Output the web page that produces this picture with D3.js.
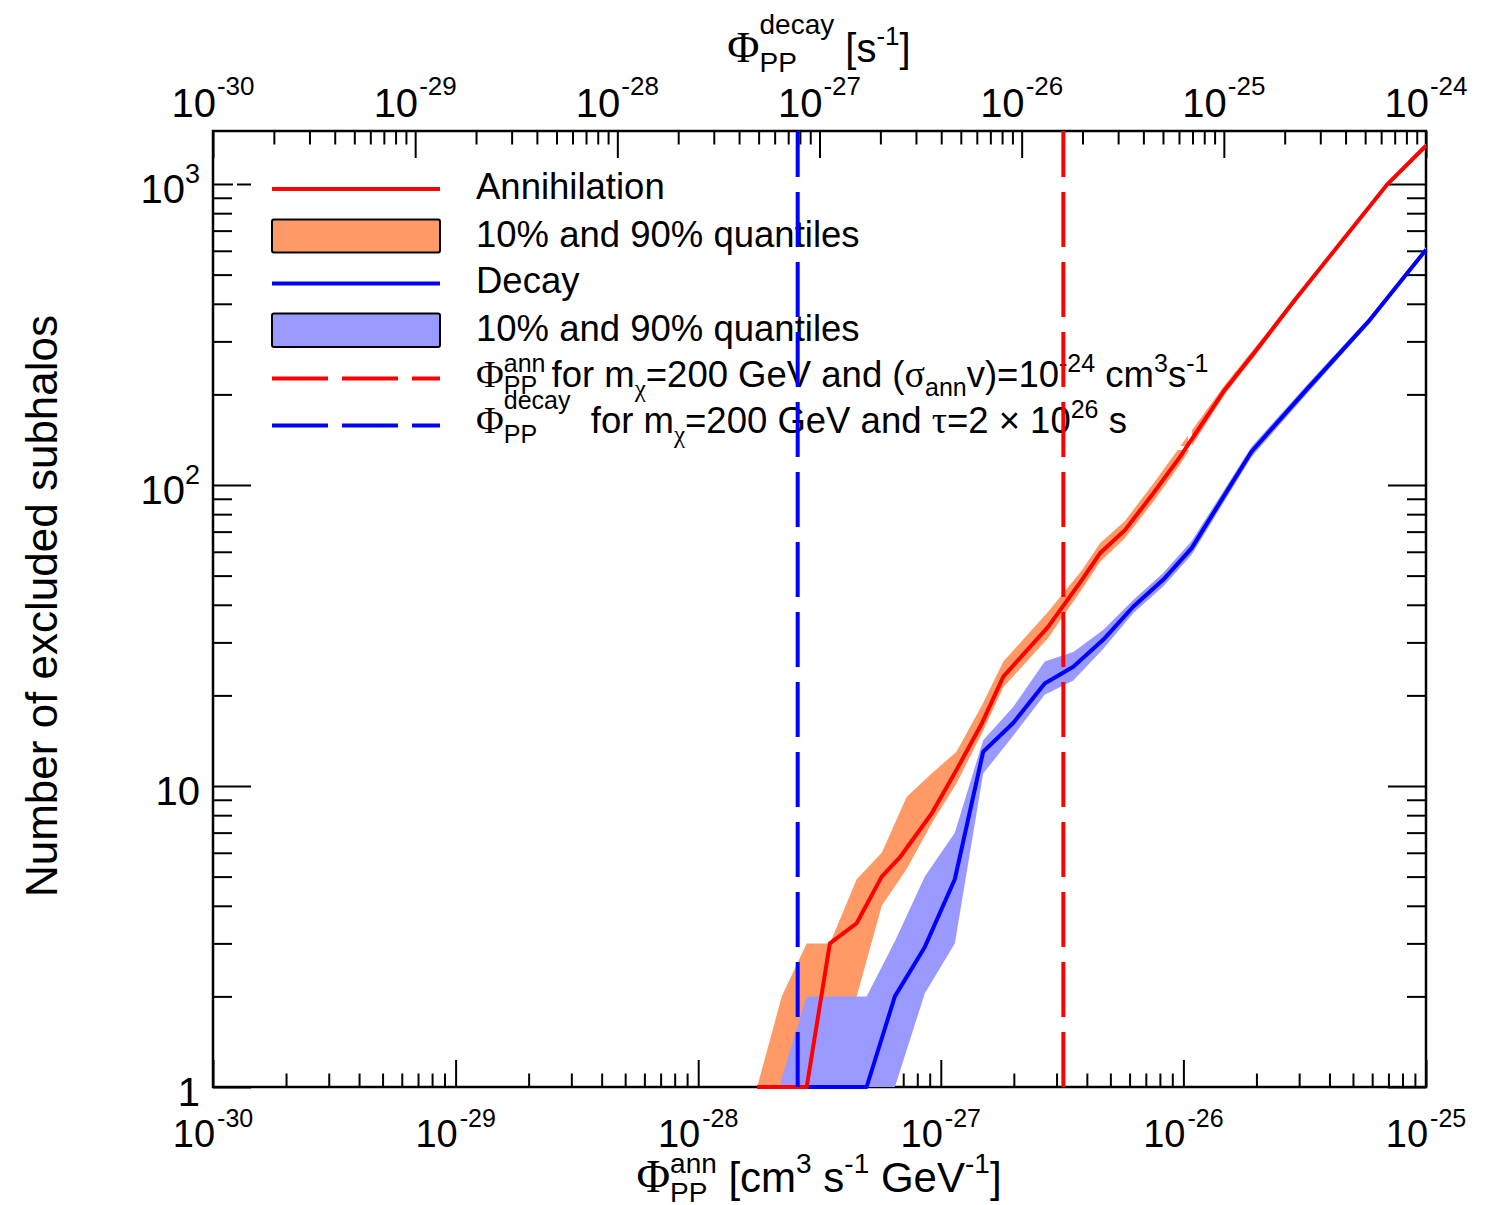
<!DOCTYPE html>
<html><head><meta charset="utf-8">
<script src="https://cdn.jsdelivr.net/npm/d3@7"></script>
<style>
html,body{margin:0;padding:0;background:#fff;}
svg text{white-space:pre;}
</style></head>
<body><svg id="chart" width="1500" height="1205"></svg>
<script>
// ---------------- data ----------------
// Annihilation: x in Phi_PP^ann [cm^3 s^-1 GeV^-1] (bottom axis)
const annFlux   = [1.75e-28, 2.80e-28, 3.49e-28, 4.50e-28, 5.71e-28, 6.79e-28, 9.17e-28, 1.16e-27, 1.48e-27, 1.81e-27, 2.77e-27, 3.81e-27, 4.53e-27, 5.74e-27, 7.51e-27, 9.68e-27, 1.48e-26, 2.00e-26, 2.88e-26, 3.90e-26, 6.89e-26, 1.0e-25];
const annMedian = [1, 1, 3.0, 3.5, 5.0, 5.8, 8.1, 11.3, 16.2, 23.1, 33.8, 48.3, 59.3, 70.8, 93.8, 124, 207, 281, 412, 559, 993, 1340];
const annBandFlux = [1.75e-28, 2.21e-28, 2.80e-28, 3.49e-28, 4.50e-28, 5.71e-28, 7.23e-28, 9.17e-28, 1.16e-27, 1.48e-27, 1.81e-27, 2.77e-27, 3.81e-27, 4.53e-27, 5.74e-27, 7.51e-27, 9.68e-27, 1.48e-26, 2.00e-26, 2.88e-26, 3.90e-26, 6.89e-26, 1.0e-25];
const annHi = [1, 2, 3, 3, 4.9, 6.0, 9.2, 11.0, 13.0, 18.6, 25.9, 37.9, 52, 64, 76, 101, 134, 215, 290, 422, 570, 1008, 1360];
const annLo = [1, 1, 1, 1, 2, 4.0, 5.3, 7.5, 10.2, 15.0, 21.3, 31.0, 45.0, 55.5, 66.5, 88, 117, 200, 273, 403, 550, 980, 1322];

// Decay: x in Phi_PP^decay [s^-1] (top axis)
const decayFlux   = [8.63e-28, 1.71e-27, 2.36e-27, 3.32e-27, 4.67e-27, 6.45e-27, 9.08e-27, 1.30e-26, 1.80e-26, 2.53e-26, 3.56e-26, 5.01e-26, 6.92e-26, 1.37e-25, 2.56e-25, 5.27e-25, 1.0e-24];
const decayMedian = [1, 1, 2.0, 2.92, 4.9, 13.0, 16.2, 21.9, 24.9, 30.6, 39.4, 48.4, 61.6, 129, 207, 353, 605];
const decayBandFlux = [6.32e-28, 8.63e-28, 1.71e-27, 2.36e-27, 3.32e-27, 4.67e-27, 6.45e-27, 9.08e-27, 1.30e-26, 1.80e-26, 2.53e-26, 3.56e-26, 5.01e-26, 6.92e-26, 1.37e-25, 2.56e-25, 5.27e-25, 1.0e-24];
const decayHi = [1, 2, 2, 3.05, 5.0, 7.0, 14.2, 18.3, 25.9, 27.9, 33.0, 41.5, 51, 65, 134, 214, 362, 618];
const decayLo = [1, 1, 1, 1, 2.05, 3.0, 11.0, 14.7, 20.1, 22.4, 28.5, 37.5, 46, 58.5, 124, 200, 345, 592];

// reference fluxes (vertical dashed lines)
const annRefFlux = 3.2e-27;    // bottom axis units
const decayRefFlux = 7.8e-28;  // top axis units

// tick labels
const bottomExponents = [-30, -29, -28, -27, -26, -25];
const topExponents = [-30, -29, -28, -27, -26, -25, -24];
const yTickValues = [1, 10, 100, 1000];
const yTickBase = ["1", "10", "10", "10"];
const yTickSup  = ["", "", "2", "3"];

// ---------------- drawing ----------------
const SANS = "'Liberation Sans', Arial, Helvetica, sans-serif";
const SERIF = "'Liberation Serif', 'DejaVu Serif', 'Times New Roman', serif";
const RED = "#ff0000", BLUE = "#0000ff", ORANGE = "#ff9966", LBLUE = "#9999ff";

const svg = d3.select("#chart");
svg.append("rect").attr("width",1500).attr("height",1205).attr("fill","#fff");
const L = 213, R = 1426, T = 131, B = 1087;
const x = d3.scaleLog().domain([1e-30, 1e-25]).range([L, R]);
const xTop = d3.scaleLog().domain([1e-30, 1e-24]).range([L, R]);
const y = d3.scaleLog().domain([1, 1500]).range([B, T]);

function rich(parent, x0, y0, segs, anchor) {
  const g = parent.append("g");
  let cx = 0;
  segs.forEach(s => {
    if (s.sup !== undefined || s.sub !== undefined) {
      let w = 0;
      [[s.sup, s.supDy], [s.sub, s.subDy]].forEach(([t, dy]) => {
        if (t === undefined) return;
        const el = g.append("text").attr("x", cx).attr("y", dy)
          .attr("font-family", s.f || SANS).attr("font-size", s.s).attr("fill", "#000").text(t);
        w = Math.max(w, el.node().getComputedTextLength());
      });
      cx += w + (s.gap || 0);
    } else {
      const el = g.append("text").attr("x", cx).attr("y", s.dy || 0)
        .attr("font-family", s.f || SANS).attr("font-size", s.s).attr("fill", "#000").text(s.t);
      cx += el.node().getComputedTextLength() + (s.gap || 0);
    }
  });
  const off = anchor === "middle" ? -cx / 2 : anchor === "end" ? -cx : 0;
  g.attr("transform", `translate(${x0 + off},${y0})`);
  return g;
}

function minorTicks(exps) {
  const out = [];
  for (let i = 0; i < exps.length - 1; i++)
    for (let m = 2; m <= 9; m++) out.push(m * Math.pow(10, exps[i]));
  return out;
}
const yMinor = [];
[0, 1, 2, 3].forEach(e => { for (let m = 2; m <= 9; m++) { const v = m * Math.pow(10, e); if (v <= 1500) yMinor.push(v); } });

function styleAxis(g) {
  g.select(".domain").remove();
  g.selectAll("line").attr("stroke", "#000").attr("stroke-width", 2);
}

const axes = svg.append("g");
const bMaj = bottomExponents.map(e => Math.pow(10, e));
const tMaj = topExponents.map(e => Math.pow(10, e));
axes.append("g").attr("transform", `translate(0,${B})`)
  .call(d3.axisBottom(x).tickValues(bMaj).tickSize(-27).tickSizeOuter(0).tickFormat("")).call(styleAxis);
axes.append("g").attr("transform", `translate(0,${B})`)
  .call(d3.axisBottom(x).tickValues(minorTicks(bottomExponents)).tickSize(-13.5).tickSizeOuter(0).tickFormat("")).call(styleAxis);
axes.append("g").attr("transform", `translate(0,${T})`)
  .call(d3.axisTop(xTop).tickValues(tMaj).tickSize(-27).tickSizeOuter(0).tickFormat("")).call(styleAxis);
axes.append("g").attr("transform", `translate(0,${T})`)
  .call(d3.axisTop(xTop).tickValues(minorTicks(topExponents)).tickSize(-13.5).tickSizeOuter(0).tickFormat("")).call(styleAxis);
axes.append("g").attr("transform", `translate(${L},0)`)
  .call(d3.axisLeft(y).tickValues(yTickValues).tickSize(-38).tickSizeOuter(0).tickFormat("")).call(styleAxis);
axes.append("g").attr("transform", `translate(${L},0)`)
  .call(d3.axisLeft(y).tickValues(yMinor).tickSize(-19).tickSizeOuter(0).tickFormat("")).call(styleAxis);
axes.append("g").attr("transform", `translate(${R},0)`)
  .call(d3.axisRight(y).tickValues(yTickValues).tickSize(-38).tickSizeOuter(0).tickFormat("")).call(styleAxis);
axes.append("g").attr("transform", `translate(${R},0)`)
  .call(d3.axisRight(y).tickValues(yMinor).tickSize(-19).tickSizeOuter(0).tickFormat("")).call(styleAxis);
axes.append("rect").attr("x", L).attr("y", T).attr("width", R - L).attr("height", B - T)
  .attr("fill", "none").attr("stroke", "#000").attr("stroke-width", 2.5);

// tick labels
bottomExponents.forEach(e => {
  rich(svg, x(Math.pow(10, e)), 1147, [{t: "10", s: 38, gap: 2}, {sup: String(e), s: 25, supDy: -20}], "middle");
});
topExponents.forEach(e => {
  rich(svg, xTop(Math.pow(10, e)), 117, [{t: "10", s: 40, gap: 1}, {sup: String(e), s: 26, supDy: -22}], "middle");
});
yTickValues.forEach((v, i) => {
  const segs = [{t: yTickBase[i], s: 40}];
  if (yTickSup[i]) segs.push({sup: yTickSup[i], s: 27, supDy: -20});
  rich(svg, 200, y(v) + 18.5, segs, "end");
});

// axis titles
rich(svg, 819, 62, [
  {t: "Φ", f: SERIF, s: 44},
  {sup: "decay", sub: "PP", s: 28, supDy: -28, subDy: 10},
  {t: " [s", s: 40}, {sup: "-1", s: 26, supDy: -17}, {t: "]", s: 40}
], "middle");
rich(svg, 819, 1192, [
  {t: "Φ", f: SERIF, s: 46},
  {sup: "ann", sub: "PP", s: 28, supDy: -19, subDy: 10},
  {t: " [cm", s: 42}, {sup: "3", s: 28, supDy: -19}, {t: " s", s: 42}, {sup: "-1", s: 28, supDy: -19},
  {t: " GeV", s: 42}, {sup: "-1", s: 28, supDy: -19}, {t: "]", s: 42}
], "middle");
svg.append("text").attr("transform", "translate(57,606) rotate(-90)")
  .attr("text-anchor", "middle").attr("font-family", SANS).attr("font-size", 44).attr("fill", "#000")
  .text("Number of excluded subhalos");

// bands
const data = svg.append("g");
const annBand = annBandFlux.map((f, i) => ({f, lo: annLo[i], hi: annHi[i]}));
const decBand = decayBandFlux.map((f, i) => ({f, lo: decayLo[i], hi: decayHi[i]}));
data.append("path").datum(annBand).attr("fill", ORANGE)
  .attr("d", d3.area().x(d => x(d.f)).y0(d => y(d.lo)).y1(d => y(d.hi)));
data.append("path").datum(decBand).attr("fill", LBLUE)
  .attr("d", d3.area().x(d => xTop(d.f)).y0(d => y(d.lo)).y1(d => y(d.hi)));

// legend frame (white)
svg.append("rect").attr("x", 235).attr("y", 162).attr("width", 1190 - 235).attr("height", 448 - 162)
  .attr("fill", "none").attr("stroke", "#fff").attr("stroke-width", 4);

// legend
const lg = svg.append("g");
const lx0 = 272, lx1 = 440, tx = 476;
lg.append("line").attr("x1", lx0).attr("x2", lx1).attr("y1", 189).attr("y2", 189).attr("stroke", RED).attr("stroke-width", 4);
lg.append("rect").attr("x", lx0).attr("y", 219.5).attr("width", lx1 - lx0).attr("height", 33).attr("rx", 2)
  .attr("fill", ORANGE).attr("stroke", "#000").attr("stroke-width", 2);
lg.append("line").attr("x1", lx0).attr("x2", lx1).attr("y1", 283.5).attr("y2", 283.5).attr("stroke", BLUE).attr("stroke-width", 4);
lg.append("rect").attr("x", lx0).attr("y", 313.5).attr("width", lx1 - lx0).attr("height", 33.5).attr("rx", 2)
  .attr("fill", LBLUE).attr("stroke", "#000").attr("stroke-width", 2);
lg.append("line").attr("x1", lx0).attr("x2", lx1).attr("y1", 378.5).attr("y2", 378.5).attr("stroke", RED).attr("stroke-width", 4).attr("stroke-dasharray", "56,14");
lg.append("line").attr("x1", lx0).attr("x2", lx1).attr("y1", 425.5).attr("y2", 425.5).attr("stroke", BLUE).attr("stroke-width", 4).attr("stroke-dasharray", "56,14");

const FS = 36.5, SS = 25;
rich(lg, tx, 199, [{t: "Annihilation", s: FS}]);
rich(lg, tx, 247, [{t: "10% and 90% quantiles", s: FS}]);
rich(lg, tx, 293, [{t: "Decay", s: FS}]);
rich(lg, tx, 341, [{t: "10% and 90% quantiles", s: FS}]);
rich(lg, tx, 387, [
  {t: "Φ", f: SERIF, s: 38},
  {sup: "ann", sub: "PP", s: SS, supDy: -15, subDy: 7, gap: 6},
  {t: "for m", s: FS}, {sub: "χ", f: SERIF, s: SS, subDy: 10},
  {t: "=200 GeV and (", s: FS}, {t: "σ", f: SERIF, s: 38}, {sub: "ann", s: SS, subDy: 9},
  {t: "v)=10", s: FS}, {sup: "-24", s: SS, supDy: -15},
  {t: " cm", s: FS}, {sup: "3", s: SS, supDy: -15}, {t: "s", s: FS}, {sup: "-1", s: SS, supDy: -15}
]);
rich(lg, tx, 433, [
  {t: "Φ", f: SERIF, s: 38},
  {sup: "decay", sub: "PP", s: SS, supDy: -24, subDy: 10},
  {t: "  for m", s: FS}, {sub: "χ", f: SERIF, s: SS, subDy: 10},
  {t: "=200 GeV and ", s: FS}, {t: "τ", f: SERIF, s: 38},
  {t: "=2 × 10", s: FS}, {sup: "26", s: SS, supDy: -15}, {t: " s", s: FS}
]);

// median lines
const lines = svg.append("g").attr("fill", "none").attr("stroke-width", 4).attr("stroke-linejoin", "round");
lines.append("path").datum(decayFlux.map((f, i) => [f, decayMedian[i]])).attr("stroke", BLUE)
  .attr("d", d3.line().x(d => xTop(d[0])).y(d => y(d[1])));
lines.append("path").datum(annFlux.map((f, i) => [f, annMedian[i]])).attr("stroke", RED)
  .attr("d", d3.line().x(d => x(d[0])).y(d => y(d[1])));

// reference dashed lines (drawn from the bottom up)
svg.append("line").attr("x1", x(annRefFlux)).attr("x2", x(annRefFlux)).attr("y1", B).attr("y2", T)
  .attr("stroke", RED).attr("stroke-width", 4).attr("stroke-dasharray", "55,15");
svg.append("line").attr("x1", xTop(decayRefFlux)).attr("x2", xTop(decayRefFlux)).attr("y1", B).attr("y2", T)
  .attr("stroke", BLUE).attr("stroke-width", 4).attr("stroke-dasharray", "55,15");
</script>
</body></html>
